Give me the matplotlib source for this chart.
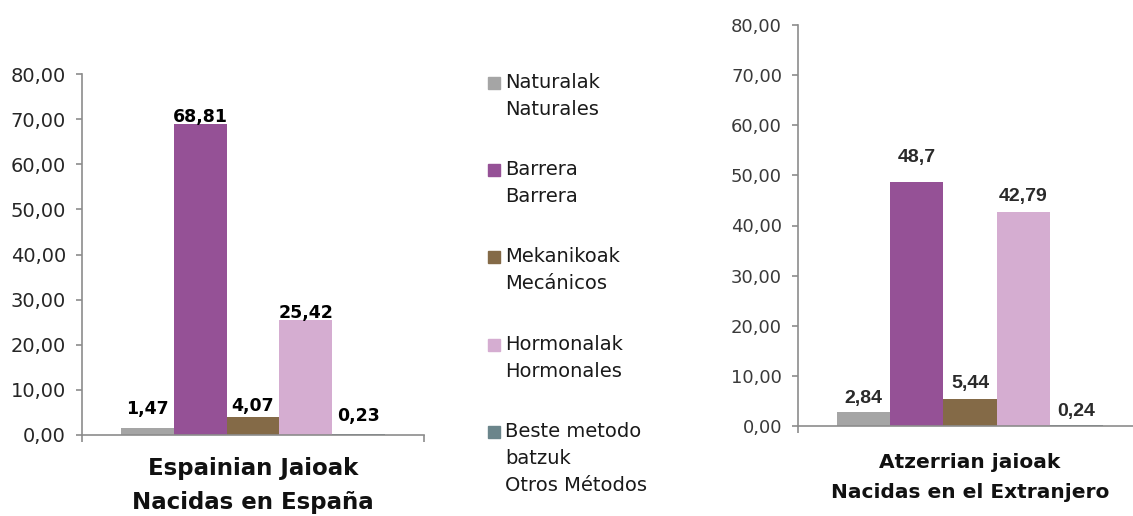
import numpy as np
import matplotlib
matplotlib.use('Agg')
import matplotlib.pyplot as plt
from matplotlib.patches import Rectangle

plt.rcParams['font.family'] = ['DejaVu Sans']

# legend texts (basque / spanish)
methods_eu = ['Naturalak', 'Barrera', 'Mekanikoak', 'Hormonalak', 'Beste metodo\nbatzuk']
methods_es = ['Naturales', 'Barrera', 'Mecánicos', 'Hormonales', 'Otros Métodos']
colors = ['#A5A5A5', '#955196', '#846A47', '#D5ADD1', '#6B858B']

spain_values = [1.47, 68.81, 4.07, 25.42, 0.23]
spain_labels = ['1,47', '68,81', '4,07', '25,42', '0,23']
abroad_values = [2.84, 48.7, 5.44, 42.79, 0.24]
abroad_labels = ['2,84', '48,7', '5,44', '42,79', '0,24']
yticks = np.arange(0, 81, 10)

W, H = 1133, 516
fig = plt.figure(figsize=(W / 100, H / 100), dpi=100)


def px_box(x0, y0, x1, y1):
    return [x0 / W, 1 - y1 / H, (x1 - x0) / W, (y1 - y0) / H]


def draw_panel(ax, values, labels, pads, title, lab_font, tick_size, tick_color,
               title_size, labelpad, spacing):
    x = np.arange(len(values))
    bars = ax.bar(x, values, width=1.0, color=colors)
    # labels sit at slightly different heights in the original, so one annotate per bar
    for rect, lab, p in zip(bars, labels, pads):
        ax.annotate(lab, (rect.get_x() + rect.get_width() / 2, rect.get_height()),
                    xytext=(0, p), textcoords='offset points', ha='center', va='bottom',
                    **lab_font)
    ax.set_ylim(0, 80)
    ax.set_yticks(yticks)
    ax.set_yticklabels([f'{v:.2f}'.replace('.', ',') for v in yticks])
    lim = (-0.5 - 0.74, len(values) - 0.5 + 0.74)
    ax.set_xticks(lim)
    ax.set_xticklabels([])
    ax.set_xlim(*lim)
    for s in ['top', 'right']:
        ax.spines[s].set_visible(False)
    for s in ['left', 'bottom']:
        ax.spines[s].set_color('#8C8C8C')
        ax.spines[s].set_linewidth(1.2)
    ax.tick_params(axis='y', length=4.5, width=1.2, color='#8C8C8C', pad=7,
                   labelsize=tick_size, labelcolor=tick_color)
    ax.tick_params(axis='x', length=5, width=1.2, color='#8C8C8C')
    ax.set_xlabel(title, fontsize=title_size, fontweight='bold', linespacing=spacing,
                  labelpad=labelpad, color='#111111')


ax1 = fig.add_axes(px_box(82, 74, 424, 435))
draw_panel(ax1, spain_values, spain_labels, [7.6, -1.3, 1.2, -1.0, 6.2],
           'Espainian Jaioak\nNacidas en España',
           dict(fontsize=12.5, fontweight='bold', color='black'),
           14, '#262626', 16.5, 7.5, 1.6)

ax2 = fig.add_axes(px_box(798, 25, 1142, 426))
draw_panel(ax2, abroad_values, abroad_labels, [3.1, 11.7, 4.5, 4.5, 3.1],
           'Atzerrian jaioak\nNacidas en el Extranjero',
           dict(fontsize=14, fontweight='bold', color='#2A2A2A', family='Liberation Sans'),
           13, '#3A3A3A', 14.5, 11, 1.73)

# legend in the middle
for i, (eu, es, c) in enumerate(zip(methods_eu, methods_es, colors)):
    yc = 81 + i * 87.2
    fig.patches.append(Rectangle((488 / W, 1 - (yc + 8) / H), 12 / W, 12 / H,
                                 transform=fig.transFigure, color=c))
    for j, line in enumerate((eu + '\n' + es).split('\n')):
        fig.text(505 / W, 1 - (yc + 7 + j * 27) / H, line, va='baseline',
                 fontsize=14, color='#1A1A1A')

fig.savefig('out.png', dpi=100)
